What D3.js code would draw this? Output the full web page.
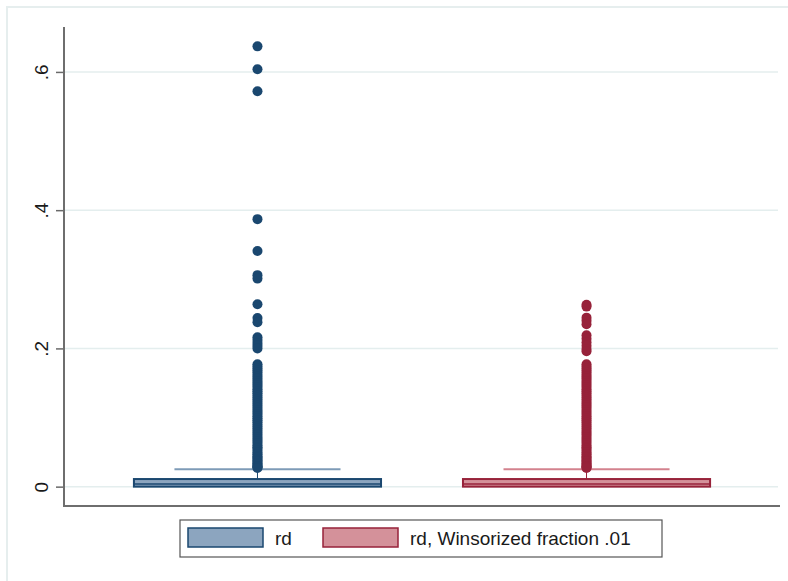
<!DOCTYPE html>
<html>
<head>
<meta charset="utf-8">
<script src="https://cdn.jsdelivr.net/npm/d3@7"></script>
<style>
  html, body { margin: 0; padding: 0; background: #ffffff; }
  svg { display: block; }
  text { font-family: "Liberation Sans", Arial, Helvetica, sans-serif; fill: #111; }
</style>
</head>
<body>
<svg id="chart" width="788" height="581"></svg>
<script>
// Series shown as box plots
const categories = ["rd", "rd, Winsorized fraction .01"];
const yTicks = [0, 0.2, 0.4, 0.6];
const yTickLabels = ["0", ".2", ".4", ".6"];

// Five-number summaries: lower adjacent, q1, median, q3, upper adjacent
const lowerAdj = [0, 0];
const q1 = [0, 0];
const median = [0.004, 0.004];
const q3 = [0.011, 0.011];
const upperAdj = [0.025, 0.025];

// Outside values common to both series (below the winsorizing cap)
const sharedOutside = [
  0.177, 0.174, 0.171, 0.168, 0.165, 0.162, 0.159, 0.156, 0.153, 0.150,
  0.147, 0.144, 0.141, 0.138, 0.135, 0.132, 0.129, 0.126, 0.123, 0.120,
  0.117, 0.114, 0.111, 0.108, 0.105, 0.102, 0.099, 0.096, 0.093, 0.090,
  0.087, 0.084, 0.081, 0.078, 0.075, 0.072, 0.069, 0.066, 0.063, 0.060,
  0.057, 0.055, 0.052, 0.049, 0.047, 0.044, 0.042, 0.040, 0.038, 0.036,
  0.034, 0.032, 0.030, 0.029, 0.028, 0.027
];
// Upper outside values of the raw series
const rdHigh = [
  0.637, 0.604, 0.572, 0.387, 0.341, 0.306, 0.301, 0.264, 0.244, 0.238,
  0.216, 0.212, 0.208, 0.204, 0.200
];
// Upper outside values of the winsorized series (capped at .263)
const rdWHigh = [
  0.263, 0.2605, 0.2445, 0.240, 0.235, 0.219, 0.214, 0.209, 0.204, 0.199,
  0.196
];
const outside = [rdHigh.concat(sharedOutside), rdWHigh.concat(sharedOutside)];

const colors = ["#1a476f", "#97223a"];
const fills = ["#8ca5bf", "#d4919a"];
const capColors = ["#7e9bb7", "#d3828e"];

const svg = d3.select("#chart");

// outer graph frame
svg.append("rect")
  .attr("x", 7).attr("y", 7).attr("width", 800).attr("height", 600)
  .attr("fill", "none").attr("stroke", "#e6eeee").attr("stroke-width", 2);

const plot = { left: 64, right: 780, top: 27, bottom: 506 };

const y = d3.scaleLinear().domain([-0.028, 0.665]).range([plot.bottom, plot.top]);
const x = d3.scaleBand().domain(categories)
  .range([plot.left, plot.right]).paddingInner(0.249).paddingOuter(0.2125);

// gridlines
svg.append("g").selectAll("line").data(yTicks).join("line")
  .attr("x1", plot.left).attr("x2", 778)
  .attr("y1", d => y(d)).attr("y2", d => y(d))
  .attr("stroke", "#e4eeee").attr("stroke-width", 1.5);

// y axis
const yAxis = d3.axisLeft(y).tickValues(yTicks)
  .tickFormat((d, i) => yTickLabels[i]).tickSize(8).tickPadding(0);
const gy = svg.append("g").attr("transform", `translate(${plot.left},0)`).call(yAxis);
gy.select(".domain").remove();
gy.selectAll(".tick line").attr("stroke", "#6a6a6a").attr("stroke-width", 1.5);
gy.selectAll(".tick text")
  .attr("x", null).attr("dy", null)
  .attr("transform", "translate(-16,0) rotate(-90)")
  .attr("text-anchor", "middle")
  .style("font-size", "19px").style("fill", "#1a1a1a");

// axis lines
svg.append("line").attr("x1", plot.left).attr("x2", plot.left)
  .attr("y1", plot.top).attr("y2", plot.bottom + 1)
  .attr("stroke", "#6e6e6e").attr("stroke-width", 2);
svg.append("line").attr("x1", plot.left - 1).attr("x2", plot.right)
  .attr("y1", plot.bottom).attr("y2", plot.bottom)
  .attr("stroke", "#6e6e6e").attr("stroke-width", 2);

// boxes
const bw = x.bandwidth();
const capW = bw * 0.672;
categories.forEach((c, i) => {
  const g = svg.append("g");
  const cx = x(c) + bw / 2;
  // whisker stems
  g.append("line").attr("x1", cx).attr("x2", cx)
    .attr("y1", y(q3[i])).attr("y2", y(upperAdj[i]))
    .attr("stroke", colors[i]).attr("stroke-width", 1);
  g.append("line").attr("x1", cx).attr("x2", cx)
    .attr("y1", y(q1[i])).attr("y2", y(lowerAdj[i]))
    .attr("stroke", colors[i]).attr("stroke-width", 1);
  // whisker caps
  g.append("line").attr("x1", cx - capW / 2).attr("x2", cx + capW / 2)
    .attr("y1", y(upperAdj[i])).attr("y2", y(upperAdj[i]))
    .attr("stroke", capColors[i]).attr("stroke-width", 2);
  // box
  g.append("rect")
    .attr("x", x(c)).attr("width", bw)
    .attr("y", y(q3[i])).attr("height", y(q1[i]) - y(q3[i]))
    .attr("fill", fills[i]).attr("stroke", colors[i]).attr("stroke-width", 2);
  g.append("line").attr("x1", x(c)).attr("x2", x(c) + bw)
    .attr("y1", y(median[i])).attr("y2", y(median[i]))
    .attr("stroke", colors[i]).attr("stroke-width", 1.5);
  // outside values
  g.append("g").selectAll("circle").data(outside[i]).join("circle")
    .attr("cx", cx).attr("cy", d => y(d)).attr("r", 5)
    .attr("fill", colors[i]);
});

// legend
const leg = svg.append("g");
leg.append("rect").attr("x", 180).attr("y", 520).attr("width", 482).attr("height", 37)
  .attr("fill", "#fff").attr("stroke", "#555").attr("stroke-width", 1.2);
const legX = [188, 323];
categories.forEach((c, i) => {
  leg.append("rect").attr("x", legX[i]).attr("y", 528).attr("width", 75).attr("height", 19)
    .attr("fill", fills[i]).attr("stroke", colors[i]).attr("stroke-width", 1.5);
  leg.append("text").attr("x", legX[i] + 87).attr("y", 545)
    .style("font-size", "19px").style("fill", "#1a1a1a").text(c);
});
</script>
</body>
</html>
